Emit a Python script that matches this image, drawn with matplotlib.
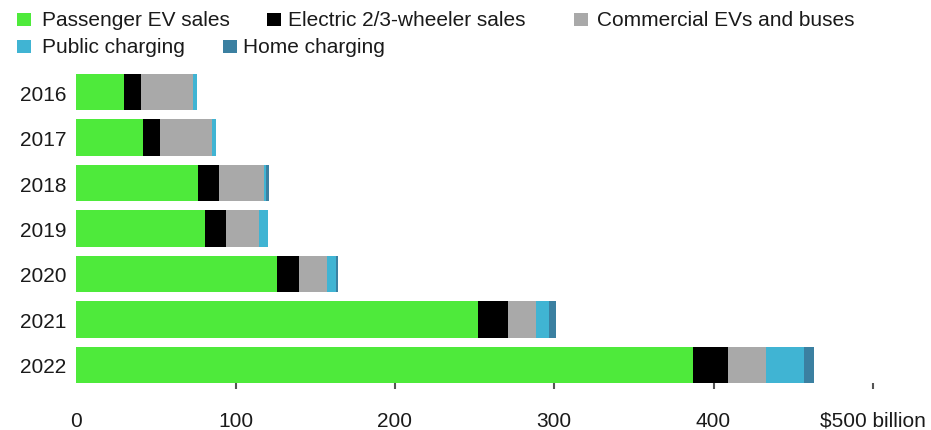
import numpy as np
import matplotlib.pyplot as plt
from matplotlib.patches import Rectangle

plt.rcParams['font.family'] = ['Liberation Sans', 'DejaVu Sans']

years = ['2016', '2017', '2018', '2019', '2020', '2021', '2022']
passenger = [29.8, 41.7, 76.4, 81.0, 126.2, 252.4, 387.3]
two_three = [10.8, 10.8, 13.0, 12.8, 13.4, 18.4, 21.8]
commercial = [32.5, 32.5, 28.4, 21.1, 17.6, 17.6, 23.9]
public = [2.5, 2.5, 1.1, 5.4, 5.8, 8.3, 23.8]
home = [0.2, 0.2, 2.3, 0.0, 1.3, 4.4, 6.5]

names = ['Passenger EV sales', 'Electric 2/3-wheeler sales', 'Commercial EVs and buses',
         'Public charging', 'Home charging']
colors = ['#4eea3b', '#000000', '#a9a9a9', '#40b4d3', '#3b80a1']
xticks = [0, 100, 200, 300, 400, 500]
xlabels = ['0', '100', '200', '300', '400', '$500 billion']

W, H = 931, 431
fig = plt.figure(figsize=(W / 100, H / 100), dpi=100)
ax = fig.add_axes([76.3 / W, 1 - 384 / H, 530 * 1.593 / W, 309 / H])

series = [passenger, two_three, commercial, public, home]
y = np.arange(len(years))
left = np.zeros(len(years))
for vals, c in zip(series, colors):
    ax.barh(y, vals, left=left, height=0.8, color=c, edgecolor='none')
    left += np.array(vals)

ax.set_xlim(0, 530)
ax.set_ylim(6.4, -0.4)
ax.set_yticks(y)
ax.set_yticklabels(years, fontsize=15, color='#1a1a1a')
ax.set_xticks(xticks)
ax.set_xticklabels(xlabels, fontsize=15, color='#1a1a1a')
ax.tick_params(axis='y', length=0, pad=7)
ax.tick_params(axis='x', length=4, width=1.5, color='#555555', pad=16)
ax.xaxis.get_major_ticks()[0].tick1line.set_visible(False)
for s in ax.spines.values():
    s.set_visible(False)

# legend laid out like the source (flowing rows)
legend_items = [(17, 20, 41.5), (267, 20, 288), (574, 20, 597), (17, 47.5, 41.5), (223, 47.5, 243)]
for (sx, cy, tx), name, c in zip(legend_items, names, colors):
    fig.add_artist(Rectangle((sx / W, 1 - (cy + 6.5) / H), 13.5 / W, 13 / H,
                             transform=fig.transFigure, color=c, lw=0))
    fig.text(tx / W, 1 - cy / H, name, fontsize=15, color='#1a1a1a', va='center', ha='left')

fig.savefig('out.png', dpi=100)
